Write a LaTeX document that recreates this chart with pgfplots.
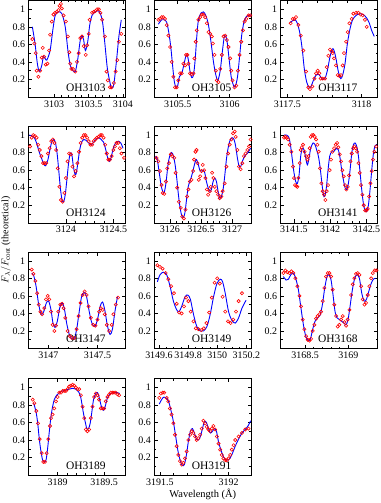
\documentclass[border=0pt]{standalone}
\usepackage{pgfplots}
\pgfplotsset{compat=1.18}
\usepackage{fontspec}
\setmainfont{Liberation Serif}
\pgfplotsset{
  panel/.style={
    width=97bp, height=96.5bp, scale only axis, anchor=north west,
    ymin=0, ymax=1.1,
    ytick={0.2,0.4,0.6,0.8,1}, minor ytick={0.1,0.3,0.5,0.7,0.9},
    minor x tick num=4,
    tick align=inside, xtick pos=both, ytick pos=both,
    major tick length=3.5bp, minor tick length=2bp,
    tick style={black, line width=0.5pt},
    axis line style={line width=0.6pt},
    scaled x ticks=false,
    xticklabel style={/pgf/number format/.cd, fixed, precision=2, 1000 sep={}},
    /pgf/number format/assume math mode=true,
    tick label style={font=\fontsize{10}{11}\selectfont},
    clip=false,
  },
  obs/.style={only marks, mark=o, mark size=1.6bp, red, mark options={line width=0.6pt}},
  mod/.style={blue, line width=0.9pt, smooth, no marks},
}
\newcommand{\plab}[1]{\node[font=\fontsize{11.5}{12}\selectfont] at (rel axis cs:0.59,0.1) {#1};}
\begin{document}
\begin{tikzpicture}
\path[use as bounding box] (0,0) rectangle (381bp,-503bp);
% ---------- OH3103
\begin{axis}[panel, at={(28.7bp,-0.5bp)}, xmin=3102.63, xmax=3104.04, xtick={3103,3103.5,3104}]
\addplot[obs] coordinates {(3102.683,.66)(3102.712,.61)(3102.732,.50)(3102.746,.30)(3102.771,.23)(3102.795,.30)(3102.82,.45)(3102.834,.56)(3102.854,.46)(3102.878,.37)(3102.902,.38)(3102.927,.53)(3102.941,.71)(3102.966,.86)(3102.99,.94)(3103.015,.96)(3103.039,.97)(3103.063,.99)(3103.078,1.04)(3103.098,1.06)(3103.112,1.01)(3103.137,.93)(3103.171,.86)(3103.20,.69)(3103.22,.51)(3103.234,.38)(3103.249,.32)(3103.273,.32)(3103.307,.29)(3103.332,.40)(3103.356,.50)(3103.38,.67)(3103.405,.69)(3103.429,.58)(3103.459,.48)(3103.478,.59)(3103.502,.72)(3103.517,.88)(3103.551,.96)(3103.576,.97)(3103.60,.98)(3103.624,1.0)(3103.649,1.0)(3103.673,.96)(3103.698,.88)(3103.737,.69)(3103.761,.29)(3103.78,.19)(3103.81,.11)(3103.834,.11)(3103.868,.16)(3103.893,.29)(3103.917,.42)(3103.941,.63)(3103.976,.72)};
\addplot[mod] coordinates {(3102.683,.80)(3102.722,.61)(3102.756,.38)(3102.785,.29)(3102.82,.36)(3102.844,.46)(3102.868,.44)(3102.893,.42)(3102.941,.53)(3102.98,.76)(3103.015,.93)(3103.063,.97)(3103.112,.95)(3103.161,.80)(3103.20,.53)(3103.234,.36)(3103.273,.30)(3103.307,.29)(3103.341,.42)(3103.38,.65)(3103.405,.70)(3103.429,.65)(3103.454,.53)(3103.488,.63)(3103.517,.82)(3103.551,.93)(3103.60,.97)(3103.649,.98)(3103.698,.88)(3103.732,.65)(3103.771,.34)(3103.805,.19)(3103.834,.10)(3103.868,.15)(3103.907,.42)(3103.941,.69)(3103.976,.88)};
\plab{OH3103}
\end{axis}
% ---------- OH3105
\begin{axis}[panel, at={(154.3bp,-0.5bp)}, xmin=3105.274, xmax=3106.21, xtick={3105.5,3106}]
\addplot[obs] coordinates {(3105.313,.88)(3105.329,.89)(3105.345,.91)(3105.361,.91)(3105.377,.89)(3105.394,.82)(3105.41,.70)(3105.426,.57)(3105.442,.40)(3105.458,.23)(3105.474,.11)(3105.49,.11)(3105.506,.19)(3105.523,.27)(3105.539,.27)(3105.555,.38)(3105.571,.36)(3105.581,.48)(3105.594,.48)(3105.603,.38)(3105.619,.27)(3105.635,.26)(3105.652,.27)(3105.661,.44)(3105.674,.63)(3105.684,.76)(3105.70,.88)(3105.716,.91)(3105.732,.94)(3105.748,.94)(3105.765,.91)(3105.781,.84)(3105.797,.74)(3105.813,.72)(3105.829,.69)(3105.839,.61)(3105.855,.48)(3105.868,.30)(3105.877,.19)(3105.894,.17)(3105.91,.32)(3105.926,.48)(3105.942,.69)(3105.958,.70)(3105.974,.65)(3105.99,.57)(3106.006,.44)(3106.016,.30)(3106.029,.19)(3106.048,.11)(3106.065,.13)(3106.081,.30)(3106.097,.48)(3106.113,.63)(3106.129,.76)(3106.145,.86)(3106.161,.89)(3106.184,.93)(3106.2,.93)};
\addplot[mod] coordinates {(3105.313,.83)(3105.345,.88)(3105.371,.88)(3105.394,.85)(3105.416,.72)(3105.435,.55)(3105.452,.34)(3105.468,.17)(3105.484,.11)(3105.5,.13)(3105.516,.23)(3105.539,.27)(3105.558,.36)(3105.577,.46)(3105.59,.48)(3105.603,.42)(3105.619,.29)(3105.635,.22)(3105.652,.25)(3105.668,.42)(3105.684,.69)(3105.70,.88)(3105.726,.96)(3105.748,.97)(3105.771,.93)(3105.797,.82)(3105.823,.61)(3105.845,.40)(3105.868,.25)(3105.887,.19)(3105.91,.30)(3105.932,.53)(3105.952,.70)(3105.974,.65)(3105.997,.42)(3106.016,.23)(3106.039,.13)(3106.055,.12)(3106.077,.23)(3106.097,.46)(3106.119,.72)(3106.145,.88)(3106.177,.93)(3106.21,.93)};
\plab{OH3105}
\end{axis}
% ---------- OH3117
\begin{axis}[panel, at={(280.7bp,-0.5bp)}, xmin=3117.455, xmax=3118.108, xtick={3117.5,3118}]
\addplot[obs] coordinates {(3117.522,.84)(3117.536,.89)(3117.547,.89)(3117.558,.91)(3117.574,.82)(3117.59,.70)(3117.608,.53)(3117.626,.29)(3117.641,.11)(3117.652,.09)(3117.668,.12)(3117.682,.21)(3117.693,.27)(3117.704,.30)(3117.715,.27)(3117.724,.21)(3117.738,.21)(3117.753,.21)(3117.765,.34)(3117.776,.47)(3117.787,.54)(3117.798,.52)(3117.805,.50)(3117.814,.44)(3117.827,.36)(3117.839,.25)(3117.85,.24)(3117.861,.25)(3117.872,.36)(3117.881,.50)(3117.895,.63)(3117.906,.74)(3117.917,.84)(3117.933,.89)(3117.944,.95)(3117.962,.96)(3117.978,.96)(3117.993,.94)(3118.007,.93)(3118.022,.88)(3118.034,.80)};
\addplot[mod] coordinates {(3117.518,.85)(3117.536,.87)(3117.552,.88)(3117.567,.84)(3117.585,.72)(3117.601,.53)(3117.614,.32)(3117.63,.17)(3117.646,.11)(3117.659,.12)(3117.675,.19)(3117.693,.25)(3117.709,.26)(3117.72,.24)(3117.738,.20)(3117.753,.21)(3117.769,.30)(3117.787,.46)(3117.803,.55)(3117.814,.53)(3117.827,.44)(3117.843,.29)(3117.859,.21)(3117.872,.25)(3117.888,.38)(3117.904,.61)(3117.922,.78)(3117.939,.88)(3117.962,.93)(3117.989,.95)(3118.011,.94)(3118.034,.90)(3118.052,.84)(3118.067,.76)(3118.085,.69)};
\plab{OH3117}
\end{axis}
% ---------- OH3124
\begin{axis}[panel, at={(28.7bp,-126.3bp)}, xmin=3123.607, xmax=3124.631, xtick={3124,3124.5}]
\addplot[obs] coordinates {(3123.621,.87)(3123.638,.97)(3123.655,1.0)(3123.672,.99)(3123.69,.97)(3123.707,.89)(3123.724,.83)(3123.741,.76)(3123.759,.68)(3123.776,.68)(3123.793,.68)(3123.81,.79)(3123.828,.85)(3123.845,.93)(3123.862,.95)(3123.879,.91)(3123.897,.83)(3123.914,.62)(3123.931,.41)(3123.948,.26)(3123.966,.24)(3123.983,.34)(3124,.51)(3124.017,.70)(3124.034,.79)(3124.052,.78)(3124.069,.64)(3124.086,.53)(3124.103,.59)(3124.121,.68)(3124.138,.81)(3124.155,.91)(3124.172,.97)(3124.19,1.0)(3124.207,1.0)(3124.224,.97)(3124.241,.93)(3124.259,.89)(3124.276,.89)(3124.293,.93)(3124.31,.95)(3124.328,.97)(3124.345,.98)(3124.362,1.0)(3124.379,1.0)(3124.397,.97)(3124.414,.89)(3124.431,.79)(3124.448,.72)(3124.466,.72)(3124.483,.76)(3124.5,.83)(3124.517,.87)(3124.534,.91)(3124.552,.91)(3124.569,.85)(3124.586,.79)(3124.614,.74)};
\addplot[mod] coordinates {(3123.614,1.0)(3123.638,.99)(3123.666,.97)(3123.69,.91)(3123.717,.81)(3123.741,.74)(3123.766,.67)(3123.786,.65)(3123.81,.72)(3123.834,.85)(3123.855,.94)(3123.872,.95)(3123.89,.91)(3123.907,.79)(3123.924,.60)(3123.941,.40)(3123.959,.26)(3123.976,.24)(3123.993,.32)(3124.01,.49)(3124.028,.68)(3124.045,.79)(3124.062,.78)(3124.079,.64)(3124.097,.55)(3124.11,.57)(3124.128,.70)(3124.145,.83)(3124.166,.92)(3124.19,.95)(3124.214,.94)(3124.241,.91)(3124.269,.89)(3124.293,.92)(3124.317,.95)(3124.345,.97)(3124.372,.95)(3124.397,.92)(3124.421,.83)(3124.441,.74)(3124.459,.70)(3124.476,.74)(3124.5,.85)(3124.524,.91)(3124.552,.93)(3124.579,.91)(3124.603,.85)};
\plab{OH3124}
\end{axis}
% ---------- OH3126
\begin{axis}[panel, at={(154.3bp,-126.3bp)}, xmin=3125.749, xmax=3127.31, xtick={3126,3126.5,3127}]
\addplot[obs] coordinates {(3125.786,.74)(3125.813,.70)(3125.84,.59)(3125.866,.43)(3125.882,.34)(3125.909,.33)(3125.936,.47)(3125.957,.62)(3125.984,.68)(3126.016,.78)(3126.037,.76)(3126.07,.74)(3126.091,.57)(3126.118,.40)(3126.144,.24)(3126.176,.17)(3126.198,.07)(3126.225,.05)(3126.251,.15)(3126.278,.30)(3126.299,.38)(3126.321,.47)(3126.348,.49)(3126.374,.59)(3126.39,.72)(3126.412,.81)(3126.428,.83)(3126.444,.68)(3126.465,.49)(3126.487,.53)(3126.508,.59)(3126.529,.66)(3126.551,.60)(3126.572,.51)(3126.594,.38)(3126.615,.32)(3126.642,.36)(3126.658,.41)(3126.679,.57)(3126.701,.51)(3126.722,.41)(3126.749,.36)(3126.775,.32)(3126.802,.28)(3126.829,.30)(3126.85,.36)(3126.882,.45)(3126.909,.64)(3126.936,.79)(3126.963,.89)(3126.989,.95)(3127.016,1.02)(3127.043,1.04)(3127.059,.98)(3127.086,.83)(3127.112,.64)(3127.139,.61)(3127.166,.68)(3127.193,.76)(3127.219,.79)(3127.246,.83)(3127.273,.87)(3127.299,.95)};
\addplot[mod] coordinates {(3125.77,.76)(3125.797,.72)(3125.829,.57)(3125.866,.40)(3125.904,.34)(3125.936,.45)(3125.973,.68)(3126.011,.79)(3126.043,.79)(3126.08,.68)(3126.107,.53)(3126.134,.34)(3126.16,.19)(3126.187,.09)(3126.214,.06)(3126.241,.11)(3126.267,.26)(3126.294,.41)(3126.321,.47)(3126.348,.53)(3126.374,.60)(3126.401,.68)(3126.428,.72)(3126.455,.67)(3126.481,.60)(3126.508,.59)(3126.535,.60)(3126.561,.57)(3126.588,.47)(3126.615,.40)(3126.642,.36)(3126.668,.38)(3126.695,.47)(3126.722,.51)(3126.749,.47)(3126.775,.36)(3126.802,.28)(3126.829,.30)(3126.856,.38)(3126.882,.53)(3126.909,.72)(3126.936,.85)(3126.963,.93)(3127.0,.97)(3127.032,.95)(3127.059,.87)(3127.086,.74)(3127.112,.65)(3127.139,.64)(3127.166,.70)(3127.204,.76)(3127.246,.79)(3127.299,.85)};
\plab{OH3126}
\end{axis}
% ---------- OH3141
\begin{axis}[panel, at={(280.7bp,-126.3bp)}, xmin=3141.32, xmax=3142.654, xtick={3141.5,3142,3142.5}]
\addplot[obs] coordinates {(3141.366,.97)(3141.384,.98)(3141.402,.97)(3141.421,.95)(3141.444,.89)(3141.467,.81)(3141.49,.64)(3141.503,.51)(3141.517,.43)(3141.535,.42)(3141.549,.41)(3141.563,.51)(3141.581,.68)(3141.595,.83)(3141.609,.86)(3141.627,.89)(3141.65,.81)(3141.668,.76)(3141.687,.72)(3141.701,.76)(3141.719,.85)(3141.733,.98)(3141.751,1.0)(3141.769,1.0)(3141.788,.98)(3141.806,.95)(3141.824,.89)(3141.843,.81)(3141.861,.62)(3141.879,.45)(3141.898,.36)(3141.916,.32)(3141.934,.26)(3141.953,.36)(3141.971,.43)(3141.994,.60)(3142.012,.72)(3142.031,.81)(3142.054,.85)(3142.077,.89)(3142.095,.91)(3142.113,.86)(3142.132,.78)(3142.15,.70)(3142.168,.60)(3142.187,.53)(3142.205,.43)(3142.223,.38)(3142.242,.41)(3142.26,.54)(3142.279,.70)(3142.297,.79)(3142.315,.85)(3142.334,.87)(3142.352,.85)(3142.37,.81)(3142.389,.68)(3142.407,.57)(3142.425,.43)(3142.444,.32)(3142.462,.20)(3142.48,.14)(3142.499,.14)(3142.517,.16)(3142.535,.30)(3142.554,.45)(3142.572,.59)(3142.59,.72)(3142.609,.81)(3142.632,.87)};
\addplot[mod] coordinates {(3141.366,1.0)(3141.402,1.0)(3141.434,.97)(3141.457,.87)(3141.48,.72)(3141.503,.57)(3141.526,.47)(3141.549,.45)(3141.572,.54)(3141.595,.76)(3141.618,.85)(3141.641,.83)(3141.664,.74)(3141.687,.66)(3141.71,.74)(3141.733,.85)(3141.765,.91)(3141.792,.89)(3141.815,.83)(3141.838,.76)(3141.861,.64)(3141.884,.47)(3141.907,.32)(3141.925,.30)(3141.948,.40)(3141.971,.60)(3141.994,.76)(3142.022,.81)(3142.045,.81)(3142.068,.83)(3142.09,.85)(3142.113,.83)(3142.136,.74)(3142.159,.60)(3142.182,.49)(3142.205,.40)(3142.228,.38)(3142.251,.45)(3142.274,.60)(3142.297,.79)(3142.32,.89)(3142.343,.91)(3142.366,.87)(3142.389,.76)(3142.412,.57)(3142.434,.38)(3142.457,.22)(3142.48,.14)(3142.503,.13)(3142.526,.20)(3142.549,.38)(3142.572,.60)(3142.595,.79)(3142.618,.88)(3142.641,.89)};
\plab{OH3141}
\end{axis}
% ---------- OH3147
\begin{axis}[panel, at={(28.7bp,-252bp)}, xmin=3146.80, xmax=3147.787, xtick={3147,3147.5}]
\addplot[obs] coordinates {(3146.831,.90)(3146.848,.85)(3146.868,.77)(3146.885,.63)(3146.902,.50)(3146.919,.42)(3146.936,.39)(3146.959,.46)(3146.976,.56)(3146.993,.60)(3147.01,.56)(3147.027,.42)(3147.044,.27)(3147.061,.20)(3147.078,.26)(3147.101,.42)(3147.122,.50)(3147.139,.51)(3147.155,.46)(3147.172,.35)(3147.196,.20)(3147.22,.14)(3147.24,.12)(3147.264,.12)(3147.287,.22)(3147.307,.37)(3147.328,.52)(3147.348,.61)(3147.369,.65)(3147.389,.61)(3147.409,.48)(3147.432,.35)(3147.456,.27)(3147.479,.26)(3147.5,.33)(3147.517,.42)(3147.534,.46)(3147.554,.44)(3147.574,.39)(3147.595,.27)(3147.618,.20)(3147.645,.27)(3147.662,.39)(3147.686,.50)(3147.709,.58)};
\addplot[mod] coordinates {(3146.831,.86)(3146.851,.83)(3146.875,.71)(3146.899,.52)(3146.926,.39)(3146.953,.42)(3146.98,.52)(3147.003,.54)(3147.027,.44)(3147.047,.29)(3147.068,.24)(3147.091,.31)(3147.115,.46)(3147.139,.52)(3147.162,.46)(3147.186,.29)(3147.213,.16)(3147.24,.11)(3147.267,.12)(3147.291,.24)(3147.314,.42)(3147.338,.59)(3147.365,.64)(3147.389,.59)(3147.416,.42)(3147.443,.29)(3147.473,.25)(3147.5,.33)(3147.527,.48)(3147.551,.53)(3147.574,.44)(3147.601,.26)(3147.628,.16)(3147.652,.22)(3147.676,.41)(3147.703,.59)};
\plab{OH3147}
\end{axis}
% ---------- OH3149
\begin{axis}[panel, at={(154.3bp,-252bp)}, xmin=3149.568, xmax=3150.234, xtick={3149.6,3149.8,3150,3150.2}, minor x tick num=3]
\addplot[obs] coordinates {(3149.589,.95)(3149.607,.93)(3149.625,.91)(3149.646,.86)(3149.664,.79)(3149.683,.71)(3149.703,.63)(3149.722,.51)(3149.738,.41)(3149.756,.40)(3149.772,.48)(3149.786,.58)(3149.802,.54)(3149.818,.42)(3149.837,.31)(3149.853,.23)(3149.871,.22)(3149.89,.21)(3149.908,.23)(3149.926,.29)(3149.945,.41)(3149.963,.58)(3149.982,.75)(3150.0,.80)(3150.018,.74)(3150.037,.59)(3150.055,.42)(3150.074,.31)(3150.092,.29)(3150.11,.33)(3150.129,.42)(3150.147,.54)(3150.17,.63)};
\addplot[mod] coordinates {(3149.589,.76)(3149.607,.84)(3149.63,.87)(3149.653,.84)(3149.676,.71)(3149.699,.54)(3149.722,.44)(3149.738,.42)(3149.756,.48)(3149.779,.59)(3149.798,.61)(3149.816,.56)(3149.837,.39)(3149.86,.25)(3149.883,.20)(3149.906,.20)(3149.929,.25)(3149.952,.39)(3149.975,.59)(3149.998,.74)(3150.021,.79)(3150.037,.76)(3150.055,.63)(3150.078,.42)(3150.101,.32)(3150.124,.29)(3150.147,.35)(3150.17,.46)(3150.198,.55)};
\plab{OH3149}
\end{axis}
% ---------- OH3168
\begin{axis}[panel, at={(280.7bp,-252bp)}, xmin=3168.219, xmax=3169.338, xtick={3168.5,3169}]
\addplot[obs] coordinates {(3168.25,.86)(3168.273,.89)(3168.296,.87)(3168.319,.86)(3168.342,.88)(3168.365,.86)(3168.388,.80)(3168.412,.71)(3168.435,.60)(3168.454,.48)(3168.473,.33)(3168.492,.22)(3168.512,.14)(3168.531,.10)(3168.55,.09)(3168.569,.11)(3168.588,.20)(3168.608,.27)(3168.627,.34)(3168.646,.37)(3168.665,.39)(3168.685,.42)(3168.704,.54)(3168.723,.69)(3168.742,.82)(3168.762,.86)(3168.781,.86)(3168.80,.82)(3168.819,.67)(3168.838,.50)(3168.858,.37)(3168.877,.25)(3168.896,.27)(3168.915,.33)(3168.935,.37)(3168.954,.30)(3168.973,.26)(3168.992,.33)(3169.012,.44)(3169.031,.61)(3169.05,.73)(3169.069,.80)(3169.088,.85)(3169.108,.86)(3169.127,.84)(3169.146,.71)(3169.165,.56)(3169.185,.50)(3169.204,.52)(3169.223,.61)(3169.242,.71)(3169.262,.80)(3169.281,.86)(3169.304,.89)(3169.323,.89)};
\addplot[mod] coordinates {(3168.25,.82)(3168.281,.78)(3168.308,.79)(3168.335,.84)(3168.365,.86)(3168.392,.80)(3168.423,.67)(3168.45,.48)(3168.481,.27)(3168.508,.14)(3168.535,.09)(3168.562,.11)(3168.588,.22)(3168.615,.31)(3168.646,.35)(3168.673,.38)(3168.70,.50)(3168.727,.69)(3168.754,.82)(3168.777,.84)(3168.80,.78)(3168.823,.61)(3168.846,.42)(3168.869,.35)(3168.896,.33)(3168.923,.31)(3168.95,.29)(3168.973,.27)(3168.996,.33)(3169.019,.48)(3169.046,.67)(3169.073,.80)(3169.10,.84)(3169.127,.80)(3169.154,.63)(3169.181,.54)(3169.208,.56)(3169.235,.65)(3169.262,.74)(3169.288,.79)(3169.312,.80)};
\plab{OH3168}
\end{axis}
% ---------- OH3189
\begin{axis}[panel, at={(28.7bp,-378.6bp)}, xmin=3188.689, xmax=3189.732, xtick={3189,3189.5}]
\addplot[obs] coordinates {(3188.732,.86)(3188.75,.82)(3188.771,.73)(3188.789,.59)(3188.807,.41)(3188.829,.25)(3188.846,.15)(3188.864,.15)(3188.882,.25)(3188.90,.41)(3188.918,.56)(3188.929,.65)(3188.946,.69)(3188.964,.76)(3188.982,.84)(3189,.89)(3189.018,.94)(3189.036,.94)(3189.054,.96)(3189.071,.96)(3189.089,.96)(3189.107,.98)(3189.125,1.01)(3189.143,1.02)(3189.161,1.03)(3189.179,1.02)(3189.196,1.0)(3189.214,.98)(3189.232,.98)(3189.25,.91)(3189.268,.78)(3189.286,.65)(3189.304,.52)(3189.321,.50)(3189.339,.52)(3189.357,.65)(3189.375,.78)(3189.393,.89)(3189.411,.93)(3189.429,.91)(3189.446,.86)(3189.464,.76)(3189.482,.76)(3189.5,.76)(3189.518,.84)(3189.536,.89)(3189.554,.92)(3189.571,.94)(3189.589,.94)(3189.607,.94)(3189.625,.94)(3189.643,.92)(3189.661,.91)};
\addplot[mod] coordinates {(3188.743,.82)(3188.768,.72)(3188.786,.59)(3188.804,.40)(3188.821,.27)(3188.839,.17)(3188.857,.15)(3188.875,.17)(3188.893,.31)(3188.911,.50)(3188.929,.67)(3188.946,.78)(3188.964,.86)(3188.989,.91)(3189.018,.94)(3189.054,.96)(3189.089,.97)(3189.125,.98)(3189.161,.99)(3189.196,.98)(3189.225,.95)(3189.25,.88)(3189.275,.72)(3189.296,.61)(3189.314,.53)(3189.332,.53)(3189.35,.59)(3189.368,.72)(3189.386,.86)(3189.411,.93)(3189.429,.94)(3189.446,.89)(3189.471,.78)(3189.493,.74)(3189.511,.78)(3189.536,.88)(3189.571,.93)(3189.607,.94)(3189.643,.94)(3189.668,.93)};
\plab{OH3189}
\end{axis}
% ---------- OH3191
\begin{axis}[panel, at={(154.3bp,-378.6bp)}, xmin=3191.459, xmax=3192.166, xtick={3191.5,3192}]
\addplot[obs] coordinates {(3191.495,.88)(3191.507,.93)(3191.52,.94)(3191.532,.94)(3191.549,.88)(3191.561,.84)(3191.573,.76)(3191.585,.69)(3191.598,.59)(3191.61,.46)(3191.622,.33)(3191.634,.23)(3191.646,.16)(3191.659,.12)(3191.671,.14)(3191.683,.19)(3191.695,.27)(3191.707,.40)(3191.72,.46)(3191.732,.50)(3191.744,.48)(3191.756,.44)(3191.768,.40)(3191.78,.42)(3191.793,.46)(3191.805,.53)(3191.817,.62)(3191.829,.59)(3191.841,.55)(3191.854,.52)(3191.866,.50)(3191.878,.53)(3191.89,.56)(3191.902,.52)(3191.915,.44)(3191.927,.36)(3191.939,.29)(3191.951,.23)(3191.963,.19)(3191.976,.17)(3191.988,.17)(3192.0,.19)(3192.012,.23)(3192.024,.29)(3192.037,.34)(3192.049,.40)(3192.073,.44)(3192.098,.48)(3192.122,.52)(3192.146,.53)};
\addplot[mod] coordinates {(3191.495,.81)(3191.512,.86)(3191.529,.89)(3191.546,.88)(3191.563,.84)(3191.58,.74)(3191.598,.61)(3191.615,.44)(3191.632,.27)(3191.649,.16)(3191.663,.11)(3191.678,.12)(3191.693,.23)(3191.707,.38)(3191.722,.50)(3191.737,.53)(3191.751,.48)(3191.766,.41)(3191.78,.40)(3191.795,.44)(3191.81,.53)(3191.824,.61)(3191.839,.60)(3191.854,.53)(3191.868,.48)(3191.883,.50)(3191.898,.53)(3191.912,.50)(3191.927,.38)(3191.946,.28)(3191.966,.20)(3191.988,.17)(3192.01,.19)(3192.029,.25)(3192.049,.33)(3192.073,.41)(3192.098,.48)(3192.122,.52)(3192.146,.57)(3192.161,.62)};
\plab{OH3191}
\end{axis}
\node[rotate=90, font=\fontsize{10}{11}\selectfont] at (6bp,-240bp) {$F_\lambda/F_\mathrm{cont}$ (theoretical)};
\node[font=\fontsize{10.5}{11}\selectfont] at (202.8bp,-494.5bp) {Wavelength (Å)};
\end{tikzpicture}
\end{document}
